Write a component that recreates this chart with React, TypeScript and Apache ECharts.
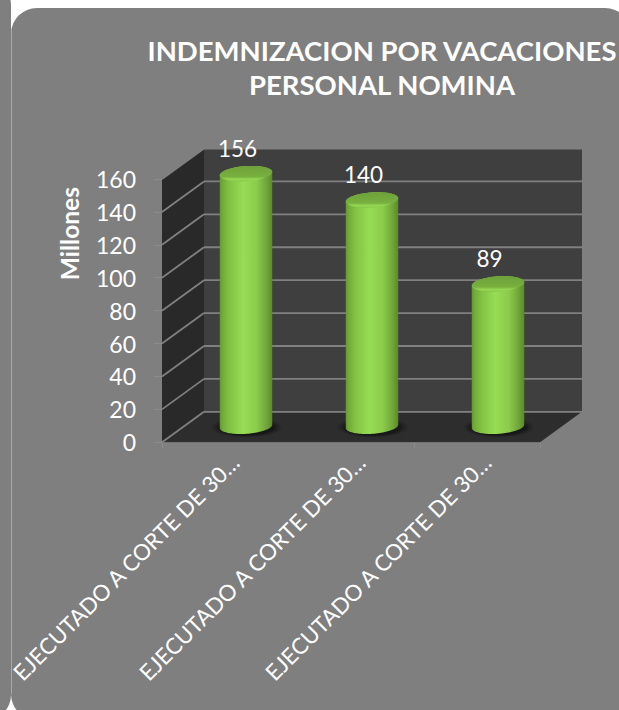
import React, { useEffect, useRef } from "react";
import * as echarts from "echarts";

const titleLines = ["INDEMNIZACION POR VACACIONES", "PERSONAL NOMINA"];
const categories = [
  "EJECUTADO A CORTE DE 30…",
  "EJECUTADO A CORTE DE 30…",
  "EJECUTADO A CORTE DE 30…",
];
const values = [156, 140, 89];
const yTicks = [0, 20, 40, 60, 80, 100, 120, 140, 160];
const yAxisName = "Millones";

const DEPTH_X = 42;
const DEPTH_Y = -30.5;
const LABEL_SHIFT = 10;
const FONT = "Lato, Carlito, Calibri, sans-serif";

function ellipsePts(cx: number, cy: number, rx: number, ry: number, rotDeg: number, from = 0, to = 360) {
  const out: number[][] = [];
  const r = (rotDeg * Math.PI) / 180;
  const n = 48;
  for (let i = 0; i <= n; i++) {
    const t = ((from + ((to - from) * i) / n) * Math.PI) / 180;
    const x = rx * Math.cos(t);
    const y = ry * Math.sin(t);
    out.push([cx + x * Math.cos(r) - y * Math.sin(r), cy + x * Math.sin(r) + y * Math.cos(r)]);
  }
  return out;
}

export default function App() {
  const ref = useRef<HTMLDivElement>(null);
  useEffect(() => {
    const chart = echarts.init(ref.current!, null, { renderer: "svg" });
    const lineColor = "#808080";
    const option: any = {
      animation: false,
      backgroundColor: "#ffffff",
      graphic: {
        elements: [
          { type: "rect", z: -10, shape: { x: -60, y: -20, width: 71, height: 740, r: 25 }, style: { fill: "#7f7f7f" } },
          { type: "rect", z: -10, shape: { x: 11, y: 8, width: 620, height: 712, r: 26 }, style: { fill: "#7f7f7f" } },
          { type: "line", z: -9, shape: { x1: 11.5, y1: 30, x2: 11.5, y2: 694 }, style: { stroke: "#a8a8a8", lineWidth: 1 } },
        ],
      },
      title: {
        text: titleLines.join("\n"),
        left: 377,
        top: 28.5,
        textAlign: "center",
        textStyle: { color: "#ffffff", fontFamily: FONT, fontWeight: "bold", fontSize: 27.5, lineHeight: 34 },
      },
      grid: [
        { left: 162, right: 79, top: 179, bottom: 267.7 },
        { left: 162 + LABEL_SHIFT, right: 79 - LABEL_SHIFT, top: 179, bottom: 267.7 },
      ],
      xAxis: [
        {
          type: "category",
          gridIndex: 0,
          data: categories,
          axisLine: { show: true, lineStyle: { color: "#8c8c8c", width: 1 } },
          axisTick: { show: true, length: 6, lineStyle: { color: "#8c8c8c" } },
          axisLabel: { show: false },
        },
        {
          type: "category",
          gridIndex: 1,
          data: categories,
          axisLine: { show: false },
          axisTick: { show: false },
          axisLabel: { rotate: 45, interval: 0, color: "#ffffff", fontFamily: FONT, fontSize: 22.3, margin: 16 },
        },
      ],
      yAxis: [
        {
          type: "value",
          gridIndex: 0,
          min: 0,
          max: 160,
          interval: 20,
          name: yAxisName,
          nameLocation: "middle",
          nameRotate: 90,
          nameGap: 80,
          nameTextStyle: { color: "#ffffff", fontFamily: FONT, fontWeight: "bold", fontSize: 24.5, padding: [0, 0, 0, 154] },
          axisLine: { show: false },
          axisTick: { show: true, length: 8, lineStyle: { color: "#8c8c8c" } },
          axisLabel: { color: "#ffffff", fontFamily: FONT, fontSize: 23, margin: 26, padding: [7, 0, 0, 0] },
          splitLine: { show: false },
        },
        { type: "value", gridIndex: 1, min: 0, max: 160, interval: 20, show: false },
      ],
      series: [
        {
          type: "custom",
          name: "walls",
          coordinateSystem: "cartesian2d",
          z: 1,
          silent: true,
          data: yTicks.map((t) => [0, t]),
          encode: { x: 0, y: 1 },
          renderItem(params: any, api: any) {
            const g = params.coordSys;
            const left = g.x;
            const right = g.x + g.width;
            const y = api.coord([0, api.value(1)])[1];
            const children: any[] = [];
            if (params.dataIndex === 0) {
              const top = g.y;
              const bot = g.y + g.height;
              children.push(
                { type: "polygon", shape: { points: [[left + DEPTH_X, top + DEPTH_Y], [right + DEPTH_X, top + DEPTH_Y], [right + DEPTH_X, bot + DEPTH_Y], [left + DEPTH_X, bot + DEPTH_Y]] }, style: { fill: "#3f3f3f" } },
                { type: "polygon", shape: { points: [[left, top], [left + DEPTH_X, top + DEPTH_Y], [left + DEPTH_X, bot + DEPTH_Y], [left, bot]] }, style: { fill: "#292929" } },
                { type: "polygon", shape: { points: [[left, bot], [left + DEPTH_X, bot + DEPTH_Y], [right + DEPTH_X, bot + DEPTH_Y], [right, bot]] }, style: { fill: "#2d2d2d" } }
              );
            }
            children.push(
              { type: "line", shape: { x1: left, y1: y, x2: left + DEPTH_X, y2: y + DEPTH_Y }, style: { stroke: lineColor, lineWidth: 1.8 } },
              { type: "line", shape: { x1: left + DEPTH_X, y1: y + DEPTH_Y, x2: right + DEPTH_X, y2: y + DEPTH_Y }, style: { stroke: lineColor, lineWidth: 1.8 } }
            );
            return { type: "group", children };
          },
        },
        {
          type: "custom",
          name: "cylinders",
          coordinateSystem: "cartesian2d",
          z: 2,
          data: values.map((v, i) => [i, v]),
          encode: { x: 0, y: 1 },
          renderItem(params: any, api: any) {
            const i = api.value(0);
            const v = api.value(1);
            const rx = 26.3;
            const ry = 7.5;
            const rot = -4;
            const topP = api.coord([i, v]);
            const botP = api.coord([i, 0]);
            const cx = topP[0] + 21;
            const topY = topP[1] - 12;
            const botY = botP[1] - 16;
            const body = [
              ...ellipsePts(cx, topY, rx, ry, rot, 180, 360),
              ...ellipsePts(cx, botY, rx, ry, rot, 0, 180),
            ];
            const bodyFill = new echarts.graphic.LinearGradient(0, 0, 1, 0, [
              { offset: 0, color: "#64952f" },
              { offset: 0.05, color: "#72aa39" },
              { offset: 0.2, color: "#84c445" },
              { offset: 0.45, color: "#97dc55" },
              { offset: 0.7, color: "#8ccc4c" },
              { offset: 0.9, color: "#6fa438" },
              { offset: 1, color: "#5a8a2a" },
            ]);
            const shadowFill = new echarts.graphic.RadialGradient(0.5, 0.5, 0.5, [
              { offset: 0, color: "rgba(15,15,15,0.95)" },
              { offset: 0.75, color: "rgba(20,20,20,0.85)" },
              { offset: 1, color: "rgba(30,30,30,0)" },
            ]);
            const topFill = new echarts.graphic.LinearGradient(0, 0, 0, 1, [
              { offset: 0, color: "#6ea13a" },
              { offset: 0.7, color: "#78b03f" },
              { offset: 0.88, color: "#98da55" },
              { offset: 1, color: "#84c146" },
            ]);
            return {
              type: "group",
              children: [
                { type: "ellipse", shape: { cx: cx + 0.5, cy: botY + 1, rx: rx + 10, ry: ry + 3 }, style: { fill: shadowFill } },
                { type: "polygon", shape: { points: body }, style: { fill: bodyFill } },
                { type: "polygon", shape: { points: ellipsePts(cx, topY, rx, ry, rot) }, style: { fill: topFill } },
                {
                  type: "text",
                  style: {
                    text: String(v),
                    x: cx - 8.5,
                    y: topY - 25,
                    align: "center",
                    verticalAlign: "middle",
                    fill: "#ffffff",
                    font: `22.5px ${FONT}`,
                  },
                },
              ],
            };
          },
        },
      ],
    };
    chart.setOption(option);
    return () => chart.dispose();
  }, []);
  return <div ref={ref} style={{ position: "fixed", left: 0, top: 0, width: 619, height: 710 }} />;
}
